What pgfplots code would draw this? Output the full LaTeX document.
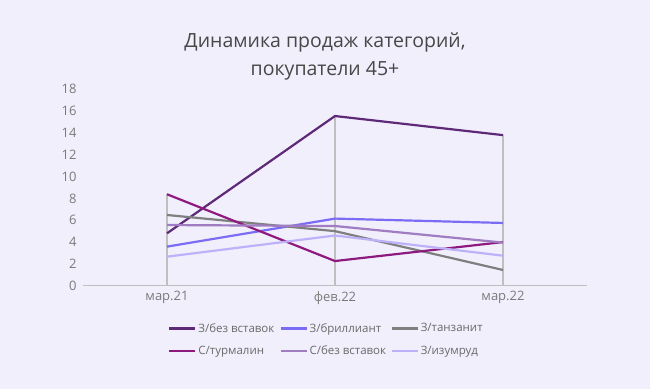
\documentclass[border=0pt]{standalone}
\usepackage{pgfplots}
\pgfplotsset{compat=1.18}
\usepackage{fontspec}
\setmainfont{Open Sans}
\definecolor{bg}{HTML}{F1EFFC}
\definecolor{c1}{HTML}{5E2A78}
\definecolor{c2}{HTML}{7A6CF5}
\definecolor{c3}{HTML}{7F7F7F}
\definecolor{c4}{HTML}{8E1A80}
\definecolor{c5}{HTML}{A07CC2}
\definecolor{c6}{HTML}{BDB2FA}
\definecolor{txt}{HTML}{595959}
\definecolor{gridc}{HTML}{BFBFBF}
\begin{document}
\begin{tikzpicture}
\fill[bg] (0,0) rectangle (650bp,389bp);
\path[use as bounding box] (0,0) rectangle (650bp,389bp);
\node[align=center, text=txt!80!black, font=\fontsize{19.5bp}{28bp}\selectfont] at (325bp,333bp) {Динамика продаж категорий,\\покупатели 45+};
\begin{axis}[
  at={(83bp,103.3bp)}, anchor=south west,
  scale only axis, width=504bp, height=196.4bp,
  xmin=-0.5, xmax=2.5, ymin=0, ymax=18,
  xtick={0,1,2}, xticklabels={мар.21,фев.22,мар.22},
  ytick={0,2,...,18},
  axis x line*=bottom, axis y line*=left,
  x axis line style={gridc, line width=1.2bp, -},
  y axis line style={draw=none},
  major tick length=0pt,
  tick label style={text=txt!80, font=\fontsize{13bp}{15bp}\selectfont},
  /pgf/number format/assume math mode=true,
  yticklabel style={xshift=-3bp},
  xticklabel style={yshift=-2bp},
  clip=false,
  legend columns=3,
  legend style={at={(0.5,-0.275)}, anchor=center, draw=none, fill=none,
    font=\fontsize{11.5bp}{13bp}\selectfont, text=txt!90, column sep=0pt, row sep=8bp,
    inner sep=0pt},
  legend cell align=left,
  legend image code/.code={\draw[#1, line width=2.2bp] (0bp,0bp) -- (26bp,0bp);},
  every axis plot/.append style={line width=2.2bp},
]
\addplot[ycomb, gridc, line width=1.3bp, forget plot] coordinates {(0,8.4) (1,15.55) (2,13.8)};
\addplot[c1] coordinates {(0,4.8) (1,15.55) (2,13.8)};
\addlegendentry{\makebox[79bp][l]{З/без вставок}}
\addplot[c2] coordinates {(0,3.58) (1,6.15) (2,5.75)};
\addlegendentry{\makebox[79bp][l]{З/бриллиант}}
\addplot[c3] coordinates {(0,6.48) (1,5.0) (2,1.44)};
\addlegendentry{\makebox[79bp][l]{З/танзанит}}
\addplot[c4] coordinates {(0,8.38) (1,2.26) (2,4.0)};
\addlegendentry{\makebox[79bp][l]{С/турмалин}}
\addplot[c5] coordinates {(0,5.56) (1,5.47) (2,3.95)};
\addlegendentry{\makebox[79bp][l]{С/без вставок}}
\addplot[c6] coordinates {(0,2.66) (1,4.6) (2,2.75)};
\addlegendentry{\makebox[79bp][l]{З/изумруд}}
\end{axis}
\end{tikzpicture}
\end{document}
